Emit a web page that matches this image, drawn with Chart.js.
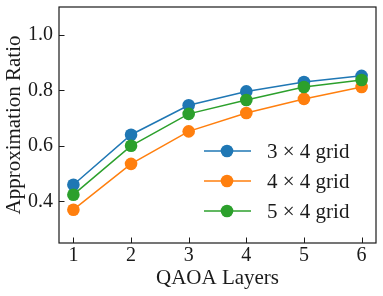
<!DOCTYPE html>
<html>
<head>
<meta charset="utf-8">
<script src="https://cdn.jsdelivr.net/npm/chart.js@4.4.0/dist/chart.umd.min.js"></script>
<style>
  html, body { margin: 0; padding: 0; background: #fff; }
  #wrap { width: 383px; height: 296px; position: relative; }
</style>
</head>
<body>
<div id="wrap"><canvas id="chart"></canvas></div>
<script>
// datos
const layers = [1, 2, 3, 4, 5, 6];
const grid3x4 = [0.460, 0.640, 0.746, 0.796, 0.830, 0.852];
const grid4x4 = [0.370, 0.535, 0.652, 0.718, 0.769, 0.812];
const grid5x4 = [0.424, 0.600, 0.715, 0.765, 0.812, 0.837];
const seriesLabels = ['3 × 4 grid', '4 × 4 grid', '5 × 4 grid'];
const seriesColors = ['#1f77b4', '#ff7f0e', '#2ca02c'];
const xTicks = [1, 2, 3, 4, 5, 6];
const yTicks = [0.4, 0.6, 0.8, 1.0];

const FONT = '"Liberation Serif", "Times New Roman", serif';
const toPoints = vals => layers.map((l, i) => ({ x: l, y: vals[i] }));

const makeSet = (idx, vals, order) => ({
  label: seriesLabels[idx],
  data: toPoints(vals),
  borderColor: seriesColors[idx],
  backgroundColor: seriesColors[idx],
  pointBackgroundColor: seriesColors[idx],
  pointBorderWidth: 0,
  pointRadius: 6.3,
  borderWidth: 1.5,
  tension: 0,
  order: order
});

// marco, ticks hacia dentro y leyenda
const framePlugin = {
  id: 'frame',
  afterDraw(chart) {
    const { ctx, chartArea: a, scales: { x, y } } = chart;
    ctx.save();
    ctx.strokeStyle = '#1a1a1a';
    ctx.lineWidth = 1.2;
    ctx.strokeRect(a.left, a.top, a.right - a.left, a.bottom - a.top);
    ctx.lineWidth = 1;
    ctx.beginPath();
    xTicks.forEach(v => {
      const px = Math.round(x.getPixelForValue(v)) + 0.5;
      ctx.moveTo(px, a.bottom); ctx.lineTo(px, a.bottom - 5.5);
    });
    yTicks.forEach(v => {
      const py = Math.round(y.getPixelForValue(v)) + 0.5;
      ctx.moveTo(a.left, py); ctx.lineTo(a.left + 5.5, py);
    });
    ctx.stroke();

    // leyenda
    const rows = [a.bottom - 92, a.bottom - 62, a.bottom - 32];
    ctx.font = '21px ' + FONT;
    ctx.textBaseline = 'middle';
    rows.forEach((ry, i) => {
      ctx.strokeStyle = seriesColors[i];
      ctx.lineWidth = 1.5;
      ctx.beginPath();
      ctx.moveTo(a.right - 172, ry); ctx.lineTo(a.right - 125, ry);
      ctx.stroke();
      ctx.fillStyle = seriesColors[i];
      ctx.beginPath();
      ctx.arc(a.right - 149, ry, 6.3, 0, Math.PI * 2);
      ctx.fill();
      ctx.fillStyle = '#1a1a1a';
      ctx.fillText(seriesLabels[i], a.right - 109, ry + 1);
    });
    ctx.restore();
  }
};

new Chart(document.getElementById('chart'), {
  type: 'line',
  data: {
    datasets: [makeSet(0, grid3x4, 3), makeSet(1, grid4x4, 2), makeSet(2, grid5x4, 1)]
  },
  options: {
    responsive: true, maintainAspectRatio: false, animation: false,
    layout: { padding: { top: 7, right: 7, left: 0, bottom: 0 } },
    plugins: { legend: { display: false }, tooltip: { enabled: false } },
    scales: {
      x: {
        type: 'linear', min: 0.75, max: 6.25,
        afterBuildTicks: s => { s.ticks = xTicks.map(v => ({ value: v })); },
        afterFit: s => { s.height = 53; s.paddingLeft = 0; s.paddingRight = 0; },
        grid: { display: false, drawTicks: false },
        border: { display: false },
        ticks: { color: '#1a1a1a', font: { family: FONT, size: 20 }, padding: 1, maxRotation: 0 },
        title: { display: true, text: 'QAOA Layers', color: '#1a1a1a', font: { family: FONT, size: 21 }, padding: { top: 0, bottom: 5 } }
      },
      y: {
        type: 'linear', min: 0.25, max: 1.1,
        afterBuildTicks: s => { s.ticks = yTicks.map(v => ({ value: v })); },
        afterFit: s => { s.width = 59; s.paddingTop = 0; s.paddingBottom = 0; },
        grid: { display: false, drawTicks: false },
        border: { display: false },
        ticks: { color: '#1a1a1a', font: { family: FONT, size: 20 }, padding: 6, callback: v => v.toFixed(1) },
        title: { display: true, text: 'Approximation Ratio', color: '#1a1a1a', font: { family: FONT, size: 21 }, padding: { top: 2, bottom: 0 } }
      }
    }
  },
  plugins: [framePlugin]
});
</script>
</body>
</html>
